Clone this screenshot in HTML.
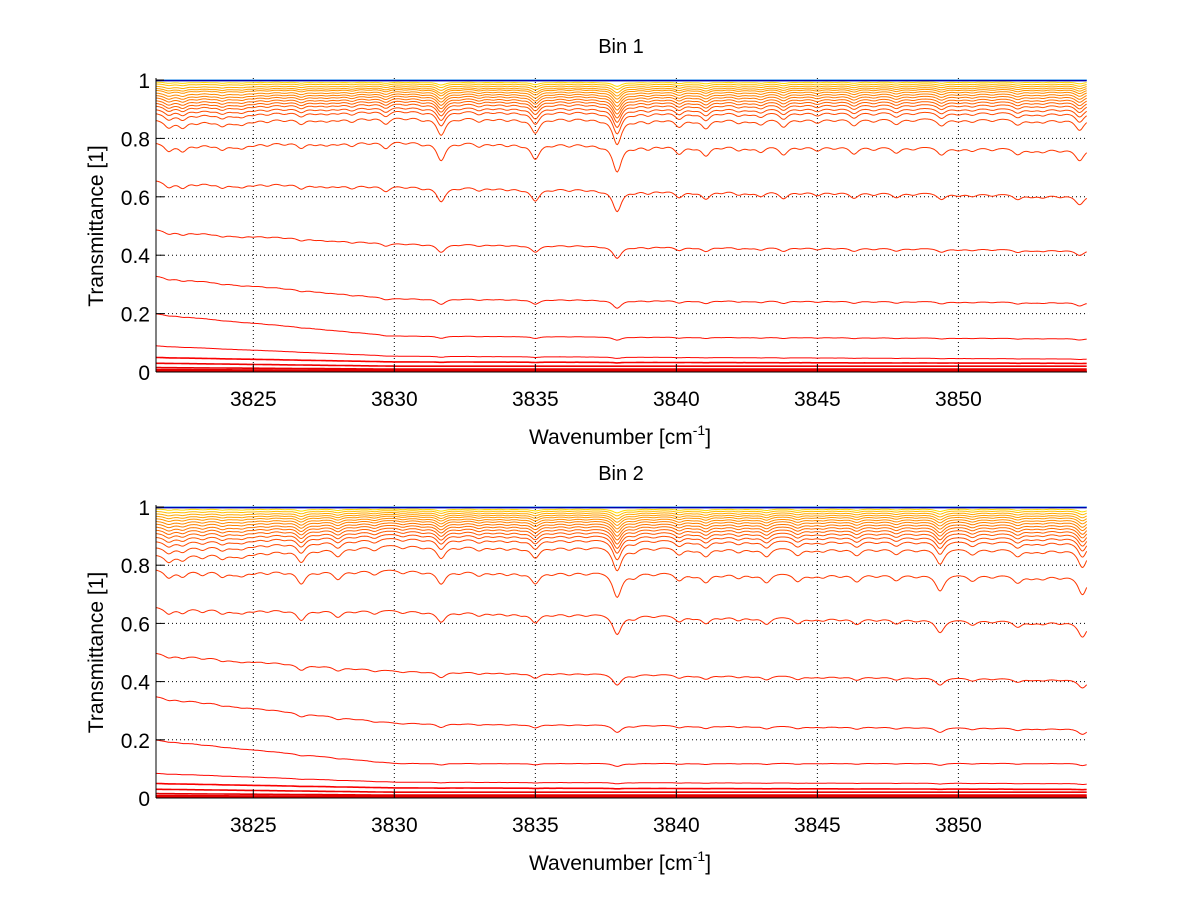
<!DOCTYPE html>
<html><head><meta charset="utf-8"><style>
html,body{margin:0;padding:0;background:#fff;}
svg{display:block;font-family:"Liberation Sans",sans-serif;}
</style></head><body>
<svg id="chart" width="1200" height="901" viewBox="0 0 1200 901"></svg>
<script>
// ---- data ----
const xTicks = [3825, 3830, 3835, 3840, 3845, 3850];
const yTicks = [0, 0.2, 0.4, 0.6, 0.8, 1];
const yTickLabels = ["0", "0.2", "0.4", "0.6", "0.8", "1"];
const xRange = [3821.55, 3854.56];

// absorption line positions (cm^-1) and relative depths, per bin
const linePos1 = [3822.0,3822.5,3823.0,3823.5,3823.9,3824.3,3824.6,3825.0,3825.5,3826.1,3826.7,3827.2,3827.6,3828.0,3828.5,3829.1,3829.7,3830.4,3831.0,3831.66,3832.3,3833.0,3833.5,3834.0,3834.5,3835.0,3835.6,3836.2,3836.8,3837.3,3837.9,3838.5,3839.0,3839.5,3840.1,3840.6,3841.05,3841.6,3842.2,3842.6,3843.0,3843.8,3844.4,3845.0,3845.6,3846.3,3847.0,3847.8,3848.4,3849.4,3850.0,3850.5,3851.2,3852.1,3852.6,3853.0,3853.6,3854.3];
const lineDepth1 = [0.03,0.03,0.015,0.012,0.025,0.012,0.02,0.012,0.015,0.012,0.025,0.012,0.015,0.012,0.02,0.012,0.03,0.012,0.015,0.07,0.012,0.02,0.012,0.015,0.012,0.06,0.012,0.015,0.012,0.012,0.1,0.015,0.02,0.012,0.035,0.012,0.04,0.012,0.02,0.012,0.025,0.035,0.012,0.02,0.012,0.03,0.015,0.025,0.012,0.03,0.012,0.015,0.012,0.025,0.012,0.015,0.012,0.045];
const linePos2 = [3822.0,3822.5,3823.2,3823.9,3824.3,3824.6,3825.0,3825.5,3826.1,3826.7,3827.3,3828.0,3828.6,3829.3,3830.3,3831.0,3831.66,3832.3,3833.0,3833.5,3834.0,3834.5,3835.0,3835.6,3836.2,3836.8,3837.9,3838.5,3839.2,3840.1,3840.6,3841.05,3841.6,3842.2,3842.7,3843.2,3844.3,3844.8,3845.2,3845.8,3846.4,3847.1,3847.8,3848.5,3849.35,3850.5,3851.2,3852.1,3852.6,3853.0,3853.6,3854.4];
const lineDepth2 = [0.03,0.025,0.02,0.025,0.012,0.02,0.012,0.015,0.012,0.05,0.012,0.035,0.012,0.02,0.015,0.012,0.05,0.012,0.02,0.012,0.015,0.012,0.045,0.012,0.015,0.012,0.09,0.02,0.012,0.03,0.012,0.035,0.012,0.02,0.012,0.035,0.03,0.012,0.015,0.012,0.03,0.012,0.025,0.012,0.06,0.025,0.012,0.03,0.012,0.015,0.012,0.07];

// per-curve baseline transmittance at left edge, at 3830, at right edge
const left1  = [1.0,1.0,0.999,0.997,0.994,0.988,0.980,0.973,0.967,0.958,0.950,0.942,0.933,0.924,0.915,0.903,0.890,0.868,0.79,0.66,0.49,0.33,0.20,0.09,0.05,0.03,0.015,0.008,0.004,0.002];
const mid1   = [1.0,1.0,0.999,0.997,0.994,0.989,0.983,0.977,0.972,0.965,0.958,0.951,0.943,0.935,0.926,0.914,0.903,0.882,0.80,0.645,0.445,0.255,0.125,0.055,0.035,0.02,0.01,0.006,0.003,0.001];
const right1 = [1.0,1.0,0.999,0.997,0.994,0.988,0.982,0.976,0.970,0.963,0.955,0.947,0.938,0.929,0.919,0.906,0.893,0.872,0.77,0.61,0.42,0.24,0.115,0.045,0.03,0.02,0.01,0.006,0.003,0.001];
const dip1   = [0,0,0,0,0.15,0.2,0.25,0.3,0.35,0.4,0.45,0.5,0.55,0.6,0.65,0.7,0.8,0.95,1.0,0.8,0.45,0.3,0.12,0.05,0.02,0,0,0,0,0];

const left2  = [1.0,1.0,0.999,0.997,0.994,0.986,0.978,0.970,0.962,0.953,0.944,0.934,0.924,0.913,0.900,0.885,0.865,0.84,0.79,0.66,0.50,0.35,0.20,0.085,0.05,0.03,0.015,0.008,0.004,0.002];
const mid2   = [1.0,1.0,0.999,0.997,0.994,0.989,0.983,0.977,0.971,0.964,0.957,0.949,0.941,0.932,0.922,0.911,0.898,0.875,0.79,0.65,0.44,0.26,0.12,0.055,0.035,0.02,0.01,0.006,0.003,0.001];
const right2 = [1.0,1.0,0.999,0.997,0.994,0.988,0.981,0.974,0.967,0.959,0.951,0.942,0.933,0.923,0.912,0.899,0.885,0.86,0.77,0.61,0.41,0.24,0.12,0.05,0.03,0.02,0.01,0.006,0.003,0.001];
const dip2   = [0,0,0,0,0.15,0.2,0.25,0.3,0.35,0.4,0.45,0.5,0.55,0.6,0.65,0.7,0.8,0.95,1.0,0.8,0.45,0.3,0.12,0.05,0.02,0,0,0,0,0];

// colour parameter (jet colormap position) per curve
const cmap = [0.3,0.4,0.1,0.02,0.66,0.69,0.71,0.72,0.73,0.74,0.75,0.76,0.77,0.78,0.79,0.8,0.805,0.81,0.82,0.83,0.84,0.85,0.86,0.87,0.88,0.89,0.9,0.9,0.9,0.9];

// ---- drawing ----
const NS = "http://www.w3.org/2000/svg";
const svg = document.getElementById('chart');
function mk(tag, attrs, parent){const e=document.createElementNS(NS,tag);for(const k in attrs)e.setAttribute(k,attrs[k]);(parent||svg).appendChild(e);return e;}
function jet(t){const c=v=>Math.round(255*Math.max(0,Math.min(1,v)));return `rgb(${c(1.5-Math.abs(4*t-3))},${c(1.5-Math.abs(4*t-2))},${c(1.5-Math.abs(4*t-1))})`;}

function drawPanel(idx, top, bottom, title, pos, depth, L, M, R, D){
  const x0=156, x1=1087;
  const sx = v => x0 + (v - xRange[0])/(xRange[1]-xRange[0])*(x1-x0);
  const sy = v => bottom - v*(bottom-top);
  const g = mk('g',{});
  
  
  const cid='clip'+idx;
  const cp=mk('clipPath',{id:cid},g); mk('rect',{x:x0,y:top-8,width:x1-x0,height:bottom-top+8},cp);
  const grid=mk('g',{},g);
  
  
  xTicks.forEach(t=>{mk('line',{x1:sx(t),x2:sx(t),y1:top-2,y2:bottom,stroke:'#000','stroke-width':1,'stroke-dasharray':'1,3'},grid);});
  yTicks.slice(1,5).forEach(t=>{mk('line',{x1:x0,x2:x1,y1:sy(t),y2:sy(t),stroke:'#000','stroke-width':1,'stroke-dasharray':'1,3'},grid);});
  const cg=mk('g',{'clip-path':`url(#${cid})`},g);
  
  
  const xm=3830;
  const order=[]; for(let c=L.length-1;c>=4;c--) order.push(c); order.push(0,1,2,3);
  order.forEach(c=>{
    let d='';
    for(let w=xRange[0]; w<=xRange[1]+0.001; w+=0.04){
      let base = w<xm ? L[c]+(M[c]-L[c])*(w-xRange[0])/(xm-xRange[0]) : M[c]+(R[c]-M[c])*(w-xm)/(xRange[1]-xm);
      let a=0;
      for(let k=0;k<pos.length;k++){const u=(w-pos[k])/0.2; a+=depth[k]/(1+u*u);}
      const v = base - D[c]*a;
      d += (d?'L':'M')+sx(w).toFixed(1)+','+sy(v).toFixed(1);
    }
    const p=mk('path',{d:d,fill:'none',stroke:jet(cmap[c]),'stroke-width':c>=L.length-6?1.6:1},cg);
    
    
  });
  mk('line',{x1:x0,x2:x0,y1:top-2,y2:bottom,stroke:'#000','stroke-width':1},g);
  mk('line',{x1:x0,x2:x1,y1:bottom,y2:bottom,stroke:'#000','stroke-width':1},g);
  xTicks.forEach(t=>{
    mk('line',{x1:sx(t),x2:sx(t),y1:bottom,y2:bottom-8,stroke:'#000'},g);
    const tx=mk('text',{x:sx(t),y:bottom+34,'font-size':21,'text-anchor':'middle'},g);tx.textContent=t;
    
    
  });
  yTicks.forEach((t,i)=>{
    mk('line',{x1:x0,x2:x0+8,y1:sy(t),y2:sy(t),stroke:'#000'},g);
    const tx=mk('text',{x:150,y:sy(t)+8,'font-size':21,'text-anchor':'end'},g);tx.textContent=yTickLabels[i];
    
    
  });
  const tt=mk('text',{x:621,y:top-27,'font-size':20,'text-anchor':'middle'},g);tt.textContent=title;
  
  
  const yl=mk('text',{x:0,y:0,'font-size':21,'text-anchor':'middle',transform:`translate(103,${(top+bottom)/2}) rotate(-90)`},g);yl.textContent='Transmittance [1]';
  
  
  const xl=mk('text',{x:620,y:bottom+72,'font-size':21,'text-anchor':'middle'},g);
  
  
  xl.appendChild(document.createTextNode('Wavenumber [cm'));
  const sup=mk('tspan',{'font-size':14,dy:-9},xl);sup.textContent='-1';
  const cl=mk('tspan',{dy:9},xl);cl.textContent=']';
}
drawPanel(1, 80, 372, 'Bin 1', linePos1, lineDepth1, left1, mid1, right1, dip1);
drawPanel(2, 507, 798, 'Bin 2', linePos2, lineDepth2, left2, mid2, right2, dip2);
</script>
</body></html>
